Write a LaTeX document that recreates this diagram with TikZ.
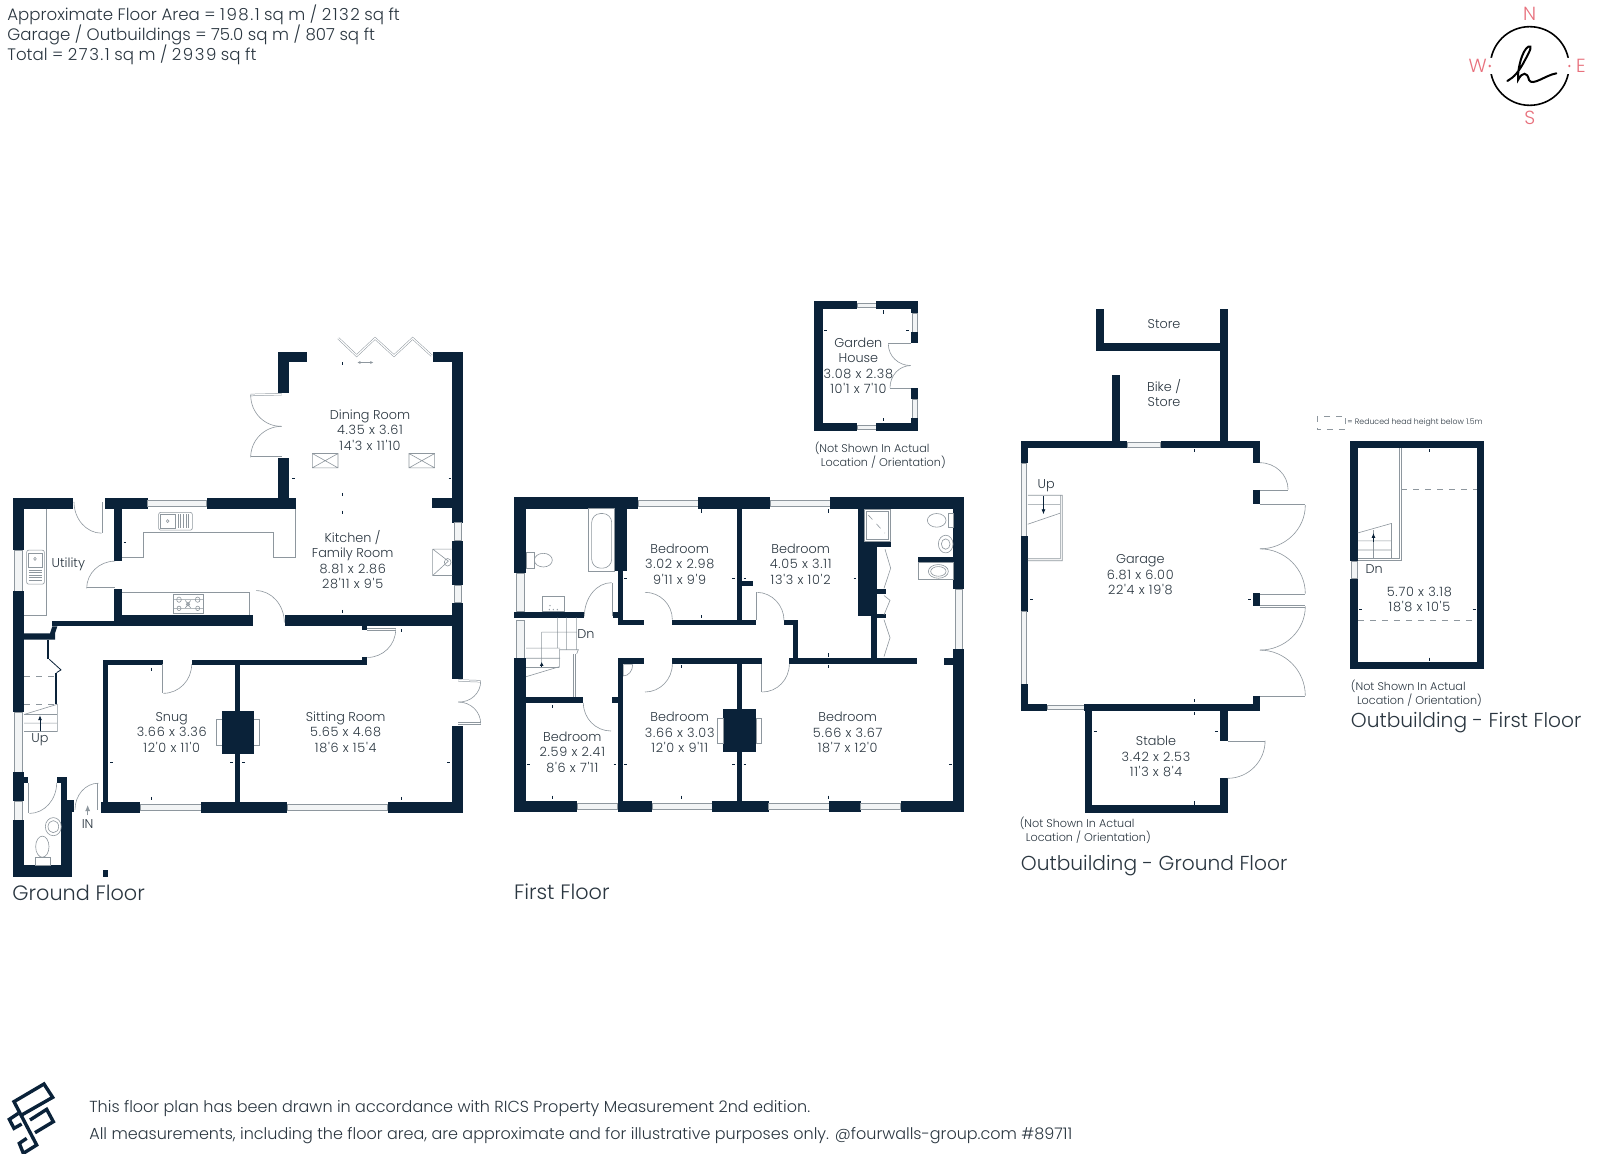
\documentclass[tikz,border=0pt]{standalone}
\usepackage{fontspec}
\setmainfont{Poppins}[UprightFont=* Light,Numbers=Monospaced]
\newfontface\dimf{Poppins Light}[LetterSpace=5.5,Numbers=Monospaced]
\newfontface\hdimf{Poppins Light}[LetterSpace=9,Numbers=Monospaced]
\newcommand\dm[1]{{\dimf #1}}
\newcommand\hd[1]{{\hdimf #1}}
\usetikzlibrary{calc,arrows.meta}
\definecolor{wallc}{HTML}{0A2239}
\definecolor{linec}{HTML}{8E979E}
\definecolor{winc}{HTML}{F2F4F5}
\definecolor{txt}{HTML}{2A3640}
\definecolor{redc}{HTML}{E8707C}
\tikzset{
 wall/.style={fill=wallc,draw=none},
 fine/.style={draw=linec,line width=0.3pt},
 leaf/.style={draw=linec,line width=0.25pt,double=white,double distance=0.6pt},
 win/.style={fill=winc,draw=linec,line width=0.3pt},
 tickm/.style={draw=wallc,line width=0.4pt},
 room/.style={font=\fontsize{6.4}{7.75}\selectfont,align=center,inner sep=0pt,text=txt},
 smalln/.style={font=\fontsize{5.6}{7.0}\selectfont,align=left,anchor=west,inner sep=0pt,text=txt},
 floort/.style={font=\fontsize{10.4}{12}\selectfont,anchor=west,inner sep=0pt,text=txt},
 floorb/.style={font=\fontsize{10.1}{12}\selectfont,anchor=west,inner sep=0pt,text=txt},
 headt/.style={font=\fontsize{8.3}{10}\selectfont,anchor=west,inner sep=0pt,text=txt},
 foott/.style={font=\fontsize{8.0}{10}\selectfont,anchor=west,inner sep=0pt,text=txt},
 compt/.style={font=\fontsize{9.5}{10}\selectfont,inner sep=0pt,text=redc},
 planA/.style={shift={(0,330)},x=0.16667pt,y=-0.18885pt},
 planB/.style={shift={(500,290)},x=0.16667pt,y=-0.201pt},
 planC/.style={shift={(1000.2,290)},x=0.1914pt,y=-0.1985pt},
}
\newcommand\Wl[4]{\fill[wall] (#1,#2) rectangle (#3,#4);}
\newcommand\Wn[4]{\path[win] (#1,#2) rectangle (#3,#4);}
\newcommand\Dr[6]{\draw[leaf] (#1,#2)--(#3,#4); \draw[fine] (#3,#4) .. controls ($(#3,#4)+0.5523*(#5,#6)-0.5523*(#1,#2)$) and ($(#5,#6)+0.5523*(#3,#4)-0.5523*(#1,#2)$) .. (#5,#6);}
\newcommand\Tv[2]{\draw[tickm] (#1,#2-4)--(#1,#2+4);}
\newcommand\Th[2]{\draw[tickm] (#1-4,#2)--(#1+4,#2);}
\begin{document}
\begin{tikzpicture}[x=0.5pt,y=-0.5pt]
\useasboundingbox[fill=white] (0,0) rectangle (1600,1154);
% ---------- header
\node[headt] (h1) at (7,15) {Approximate Floor Area = \hd{198.1} sq m / \hd{2132} sq ft};
\node[headt] (h2) at (7,35) {Garage / Outbuildings = 75.0 sq m / 807 sq ft};
\node[headt] (h3) at (7,55) {Total = \hd{273.1} sq m / \hd{2939} sq ft};
% ---------- footer
\node[foott] (f1) at (89,1108) {This floor plan has been drawn in accordance with RICS Property Measurement 2nd edition.};
\node[foott] (f2) at (89,1136) {All measurements, including the floor area, are approximate and for illustrative purposes only. @fourwalls-group.com \#89711};
% ---------- logo
\begin{scope}[shift={(0,1080)},x=0.16667pt,y=-0.16667pt]
\draw[wallc,line width=1.7pt,line join=miter] (65,105)--(158,52)--(132,12)--(42,65)--(110,195)--(70,220)--(58,190)--(80,175);
\draw[wallc,line width=1.7pt] (90,120)--(140,88)--(160,125)--(105,158);
\draw[wallc,line width=1.7pt] (55,100)--(28,118)--(42,145)--(65,132);
\end{scope}
% ---------- compass
\begin{scope}[shift={(1419,0)},x=0.16667pt,y=-0.16667pt]
\draw[black,line width=0.8pt] (332,198) circle[radius=118];
\path[fill=white] (200,174) rectangle (225,222) (440,174) rectangle (465,222);
\draw[black,line width=1pt,line cap=round] (265,243) .. controls (285,232) and (300,215) .. (318,180) .. controls (335,150) and (340,135) .. (328,140) .. controls (310,150) and (295,205) .. (297,240) .. controls (310,215) and (325,215) .. (330,240) .. controls (340,260) and (380,225) .. (412,220);
\fill[redc] (212,198) circle[radius=4] (451,198) circle[radius=4];
\node[compt] (cn) at (332,42) {N};
\node[compt] (cs) at (332,354) {S};
\node[compt] (cw) at (176,198) {W};
\node[compt] (ce) at (486,198) {E};
\end{scope}
% ========== GROUND FLOOR
\begin{scope}[planA]
\Wl{38}{445}{218}{473}\Wl{38}{445}{72}{582}\Wn{42}{582}{66}{692}\Wl{38}{692}{72}{1012}\Wn{42}{1012}{66}{1170}\Wl{38}{1170}{72}{1248}\Wn{42}{1248}{66}{1298}\Wl{38}{1298}{72}{1447}
\Wl{72}{1184}{85}{1199}
\Wl{38}{1417}{217}{1447}\Wl{170}{1184}{200}{1199}\Wl{183}{1199}{200}{1250}\Wl{183}{1244}{222}{1276}\Wl{183}{1276}{217}{1447}
\Wl{315}{445}{443}{473}\Wn{443}{452}{620}{467}\Wl{620}{445}{887}{473}
\Wl{342}{473}{366}{612}\Wl{342}{686}{366}{770}\Wl{342}{755}{760}{785}\Wl{157}{770}{342}{785}\fill[wall] (157,785)--(172,785)--(165,803)--(165,820)--(72,820)--(72,803)--(150,803)--cycle;
\Wl{142}{820}{148}{872}\Wl{165}{907}{172}{990}
\Wl{856}{755}{1388}{785}\Wl{1087}{785}{1102}{793}
\Wl{1356}{57}{1388}{510}\Wl{1298}{57}{1388}{85}\Wn{1362}{510}{1384}{558}\Wl{1356}{558}{1388}{675}\Wn{1362}{675}{1384}{722}\Wl{1356}{722}{1388}{925}\Wl{1356}{1048}{1388}{1280}
\Wl{1296}{445}{1356}{472}
\Wl{833}{57}{922}{85}\Wl{833}{57}{868}{167}\Wl{833}{340}{868}{445}
\Wl{308}{873}{488}{887}\Wl{575}{873}{1102}{887}\Wl{1087}{867}{1102}{887}\Wl{308}{873}{324}{1250}
\Wl{302}{1250}{420}{1280}\Wn{420}{1257}{604}{1273}\Wl{604}{1250}{862}{1280}\Wn{862}{1257}{1163}{1273}\Wl{1163}{1250}{1388}{1280}
\Wl{704}{887}{720}{1250}\Wl{665}{1008}{762}{1122}
\draw[fine] (665,1030)--(648,1030)--(648,1100)--(665,1100) (762,1030)--(778,1030)--(778,1100)--(762,1100);
% doors
\Dr{305}{455}{305}{538}{222}{455}
\Dr{345}{684}{260}{684}{345}{612}
\Dr{768}{775}{768}{690}{853}{775}
\Dr{1102}{793}{1187}{793}{1102}{867}
\Dr{490}{885}{490}{962}{575}{885}
\Dr{845}{170}{752}{172}{845}{255}
\Dr{845}{337}{752}{337}{845}{255}
\Dr{1375}{928}{1442}{930}{1375}{985}
\Dr{1375}{1042}{1442}{1042}{1375}{985}
\Dr{88}{1199}{88}{1280}{170}{1199}
\Dr{295}{1270}{295}{1200}{225}{1270}
\draw[fine,double=white,double distance=0.6pt,line width=0.25pt] (1015,22)--(1070,68)--(1125,22)--(1182,68)--(1238,22)--(1295,68);
\draw[tickm] (148,872)--(183,900)--(170,907);
% stairs
\draw[fine,dashed] (72,918)--(165,918) (72,991)--(165,991);
\draw[fine] (72,1018)--(172,991)--(172,1063)--(72,1063) (72,1018)--(172,1018) (72,1041)--(172,1041);
\draw[tickm,-{Latex[length=2.5pt,width=2pt]}] (120,1063)--(120,1020);
% utility fittings
\draw[fine] (140,473)--(140,755) (72,755)--(140,755);
\draw[fine,rounded corners=1pt] (80,583) rectangle (133,673);
\draw[fine] (85,590) rectangle (128,628);
\foreach \yy in {635,642,649,656,663} {\draw[fine] (86,\yy)--(127,\yy);}
\draw[fine] (105,606) circle[radius=4];
% kitchen
\draw[fine] (366,603)--(430,603)--(430,535)--(820,535)--(820,603)--(887,603)--(887,473);
\draw[fine,rounded corners=1pt] (476,483) rectangle (577,530);
\draw[fine] (482,488) rectangle (525,525);
\foreach \xx in {534,542,550,558,566} {\draw[fine] (\xx,488)--(\xx,525);}
\draw[fine] (503,506) circle[radius=4];
\draw[fine] (366,695)--(748,695)--(748,755);
\draw[fine] (519,701) rectangle (609,749);
\draw[fine] (537,714) circle[radius=7] (593,714) circle[radius=7] (537,737) circle[radius=6] (593,737) circle[radius=6] (564,726) circle[radius=5];
\draw[fine] (556,716)--(572,736) (572,716)--(556,736) (519,714)--(609,714) (519,737)--(609,737);
\draw[fine] (1298,580)--(1356,580) (1298,580)--(1298,650)--(1356,650) (1298,580)--(1345,612)--(1298,650);
\draw[fine] (1343,615) circle[radius=10];
% rooflights
\draw[fine] (937,327) rectangle (1014,365) (937,327)--(1014,365) (937,365)--(1014,327);
\draw[fine] (1227,327) rectangle (1304,365) (1227,327)--(1304,365) (1227,365)--(1304,327);
% wc
\draw[fine] (160,1315) circle[radius=24];
\draw[fine] (160,1315) circle[radius=16];
\draw[fine] (127,1368) ellipse[x radius=20,y radius=28];
\draw[fine] (105,1396) rectangle (150,1417);
% ticks
\foreach \a/\b in {1028/90,1028/435,1028/482,1028/745,1205/795,453/898,453/1240,1205/1240} {\Tv{\a}{\b}}
\foreach \a/\b in {880/393,1350/393,375/562,335/1145,1345/1145,695/1145,730/1145} {\Th{\a}{\b}}
\draw[fine,<->,>={Latex[length=1.5pt,width=1.5pt]}] (1072,86)--(1120,86);
\draw[fine,-{Latex[length=3pt,width=2.5pt]}] (263,1285)--(263,1258);
\fill[wall] (308,1431) rectangle (323,1447);
\node[room] (din) at (1110,265) {Dining Room\\\dm{4.35 x 3.61}\\\dm{14'3 x 11'10}};
\node[room] (kit) at (1058,608) {Kitchen /\\Family Room\\\dm{8.81 x 2.86}\\\dm{28'11 x 9'5}};
\node[room] (util) at (205,620) {Utility};
\node[room] (snug) at (515,1065) {Snug\\\dm{3.66 x 3.36}\\\dm{12'0 x 11'0}};
\node[room] (sit) at (1037,1065) {Sitting Room\\\dm{5.65 x 4.68}\\\dm{18'6 x 15'4}};
\node[room] (up1) at (120,1085) {Up};
\node[room] (in1) at (263,1308) {IN};
\node[floort] (gf) at (36,1490) {Ground Floor};
\end{scope}
% ========== FIRST FLOOR + GARDEN HOUSE
\begin{scope}[planB]
\Wl{43}{516}{415}{544}\Wn{415}{522}{595}{538}\Wl{595}{516}{810}{544}\Wn{810}{522}{990}{538}\Wl{990}{516}{1393}{544}
\Wl{43}{516}{78}{705}\Wn{50}{705}{72}{800}\Wl{43}{800}{253}{815}\Wn{50}{822}{72}{915}\Wl{43}{915}{78}{1298}
\Wl{43}{1270}{232}{1298}\Wn{232}{1277}{353}{1292}\Wl{353}{1270}{457}{1298}\Wn{457}{1277}{637}{1292}\Wl{637}{1270}{806}{1298}\Wn{806}{1277}{988}{1292}\Wl{988}{1270}{1082}{1298}\Wn{1082}{1277}{1202}{1292}\Wl{1202}{1270}{1393}{1298}
\Wl{1360}{516}{1393}{745}\Wn{1366}{745}{1388}{893}\Wl{1360}{893}{1393}{1298}\Wl{1332}{916}{1360}{932}
\Wl{343}{544}{380}{700}\Wl{354}{700}{370}{833}\Wl{338}{800}{354}{815}\Wl{354}{820}{432}{834}\Wl{517}{820}{768}{834}
\Wl{710}{544}{725}{820}\Wl{725}{724}{758}{737}
\Wl{852}{820}{893}{834}\Wl{878}{820}{893}{916}\Wl{868}{916}{1250}{930}
\Wl{355}{916}{432}{930}\Wl{517}{916}{785}{930}\Wl{354}{916}{370}{1270}\Wl{710}{930}{725}{1270}\Wl{669}{1043}{768}{1150}
\Wl{78}{1013}{250}{1027}\Wl{335}{1013}{355}{1027}
\Wl{1075}{544}{1092}{640}\Wl{1075}{628}{1172}{640}\Wl{1075}{640}{1130}{812}\Wl{1113}{812}{1130}{916}\Wl{1255}{665}{1360}{678}
\Wl{1130}{745}{1158}{755}\Wl{1130}{805}{1158}{815}
\Dr{335}{812}{335}{728}{253}{812}
\Dr{435}{820}{435}{752}{517}{820}
\Dr{772}{820}{772}{752}{852}{822}
\Dr{435}{930}{435}{1000}{517}{930}
\Dr{787}{930}{787}{1000}{868}{930}
\Dr{333}{1027}{333}{1097}{250}{1027}
\draw[fine] (1155,645)--(1172,692)--(1152,742) (1152,760)--(1170,772)--(1152,808) (1152,820)--(1170,865)--(1152,912);
\draw[fine] (653,1065) rectangle (669,1128) (768,1065) rectangle (785,1128);
% bathroom
\draw[fine] (265,544) rectangle (343,700);
\draw[fine,rounded corners=4.5pt] (275,556) rectangle (335,692);
\draw[fine] (78,652) rectangle (102,692);
\draw[fine] (130,672) ellipse[x radius=27,y radius=17];
\draw[fine] (127,763) rectangle (193,800);
\fill[linec] (150,785) circle[radius=2] (160,795) circle[radius=2] (172,795) circle[radius=2] (148,795) circle[radius=2];
% stairs
\draw[fine] (125,851)--(230,851) (78,891)--(180,891) (78,916)--(180,916) (78,939)--(178,939) (173,815)--(173,891) (200,815)--(200,895) (230,815)--(230,895) (125,851)--(125,938) (78,962)--(178,937)--(178,895)--(235,895)--(230,905);
\draw[fine] (220,905)--(220,1013) (225,905)--(225,1013);
\draw[tickm,-{Latex[length=2pt,width=2pt]}] (125,938)--(125,925);
\draw[fine] (370,960) arc[start angle=90,end angle=0,radius=28] -- (370,932) -- cycle;
% en-suite
\draw[fine] (1092,545) rectangle (1170,625) (1098,551) rectangle (1164,619);
\draw[fine,dashed] (1105,560)--(1155,605);
\draw[fine] (1310,573) ellipse[x radius=28,y radius=17];
\draw[fine] (1345,555) rectangle (1360,590);
\draw[fine] (1337,632) circle[radius=22] (1337,632) circle[radius=13];
\draw[fine] (1255,678) rectangle (1360,720);
\draw[fine] (1315,700) ellipse[x radius=30,y radius=17] (1315,700) ellipse[x radius=23,y radius=12];
% ticks
\foreach \a/\b in {605/550,985/550,605/813,985/908,985/937,545/937,158/1036,158/1262,545/1262,985/1262} {\Tv{\a}{\b}}
\foreach \a/\b in {377/717,700/717,735/717,1065/717,85/1180,345/1180,377/1180,700/1180,735/1180,1352/1180} {\Th{\a}{\b}}
% garden house
\Wl{943}{27}{1072}{47}\Wn{1072}{32}{1128}{42}\Wl{1128}{27}{1255}{47}\Wl{943}{27}{968}{351}
\Wl{943}{332}{1072}{351}\Wn{1072}{337}{1128}{346}\Wl{1128}{332}{1255}{351}
\Wl{1232}{27}{1255}{57}\Wn{1237}{57}{1252}{105}\Wl{1232}{105}{1255}{133}\Wl{1232}{243}{1255}{272}\Wn{1237}{272}{1252}{318}\Wl{1232}{318}{1255}{351}
\Dr{1232}{135}{1165}{135}{1232}{188}
\Dr{1232}{243}{1170}{243}{1232}{188}
\foreach \a/\b in {1150/55,1150/323} {\Tv{\a}{\b}}
\foreach \a/\b in {977/101,1222/101} {\Th{\a}{\b}}
\node[room] (gh) at (1075,189) {Garden\\House\\\dm{3.08 x 2.38}\\\dm{10'1 x 7'10}};
\node[smalln] (gn) at (943,411) {(Not Shown In Actual\\\ \ Location / Orientation)};
\node[room] (b1) at (539,682) {Bedroom\\\dm{3.02 x 2.98}\\\dm{9'11 x 9'9}};
\node[room] (b2) at (902,682) {Bedroom\\\dm{4.05 x 3.11}\\\dm{13'3 x 10'2}};
\node[room] (b3) at (539,1101) {Bedroom\\\dm{3.66 x 3.03}\\\dm{12'0 x 9'11}};
\node[room] (b4) at (1043,1101) {Bedroom\\\dm{5.66 x 3.67}\\\dm{18'7 x 12'0}};
\node[room] (b5) at (217,1150) {Bedroom\\\dm{2.59 x 2.41}\\\dm{8'6 x 7'11}};
\node[room] (dn1) at (258,855) {Dn};
\node[floort] (ff) at (41,1498) {First Floor};
\end{scope}
% ========== OUTBUILDINGS
\begin{scope}[planC]
\Wl{251}{133}{594}{153}\Wl{251}{48}{270}{153}\Wl{574}{48}{594}{380}\Wl{293}{215}{313}{380}
\Wl{53}{380}{332}{398}\Wn{332}{383}{419}{395}\Wl{419}{380}{678}{398}
\Wl{53}{380}{72}{437}\Wn{56}{437}{69}{620}\Wl{53}{620}{72}{810}\Wn{56}{810}{69}{993}\Wl{53}{993}{72}{1060}
\Wl{53}{1042}{123}{1060}\Wn{123}{1045}{219}{1057}\Wl{219}{1042}{678}{1060}
\Wl{660}{380}{678}{435}\Wl{660}{503}{678}{540}\Wl{660}{763}{678}{797}\Wl{660}{1022}{678}{1060}
\Wl{221}{1060}{241}{1318}\Wl{574}{1060}{594}{1135}\Wl{574}{1230}{594}{1318}\Wl{221}{1298}{594}{1318}
\Dr{678}{503}{752}{503}{678}{435}
\Dr{678}{542}{797}{542}{678}{652}
\Dr{678}{765}{797}{765}{678}{652}
\Dr{678}{797}{797}{797}{678}{907}
\Dr{678}{1022}{797}{1022}{678}{907}
\Dr{594}{1135}{692}{1135}{594}{1230}
\draw[fine] (72,517)--(162,517)--(162,682)--(72,682) (157,517)--(157,677)--(72,677) (72,540)--(157,540) (72,590)--(157,562);
\draw[tickm,-{Latex[length=2.5pt,width=2pt]}] (113,520)--(113,565);
\foreach \a/\b in {507/405,507/1035,507/1067,507/1292} {\Tv{\a}{\b}}
\foreach \a/\b in {82/780,652/780,248/1113,565/1113} {\Th{\a}{\b}}
% first floor outbuilding
\Wl{915}{380}{1265}{398}\Wl{915}{380}{934}{683}\Wn{917}{683}{932}{727}\Wl{915}{727}{934}{955}\Wl{915}{937}{1265}{955}\Wl{1246}{380}{1265}{955}
\draw[fine] (1042,398)--(1042,676)--(934,676) (1048,398)--(1048,682)--(934,682);
\draw[fine,dashed] (1048,502)--(1246,502) (934,833)--(1246,833);
\draw[fine] (934,612)--(1022,588)--(1022,676) (934,632)--(1022,632) (934,655)--(1022,655) (975,605)--(975,676);
\draw[tickm,-{Latex[length=2.5pt,width=2pt]}] (975,635)--(975,612);
\foreach \a/\b in {1122/405,1122/930} {\Tv{\a}{\b}}
\foreach \a/\b in {942/804,1238/804} {\Th{\a}{\b}}
\draw[fine,dashed] (827,317) rectangle (902,352);
\node[font=\fontsize{3.9}{5}\selectfont,anchor=west,inner sep=0pt,text=txt] (lg) at (906,333) {= Reduced head height below 1.5m};
\node[room] (st) at (428,85) {Store};
\node[room] (bk) at (428,260) {Bike /\\Store};
\node[room] (gar) at (366,717) {Garage\\\dm{6.81 x 6.00}\\\dm{22'4 x 19'8}};
\node[room] (stb) at (407,1176) {Stable\\\dm{3.42 x 2.53}\\\dm{11'3 x 8'4}};
\node[room] (up2) at (120,492) {Up};
\node[room] (dn2) at (977,702) {Dn};
\node[room] (ob1) at (1095,780) {\dm{5.70 x 3.18}\\\dm{18'8 x 10'5}};
\node[smalln] (gn2) at (50,1360) {(Not Shown In Actual\\\ \ Location / Orientation)};
\node[smalln] (gn3) at (915,1016) {(Not Shown In Actual\\\ \ Location / Orientation)};
\node[floorb] (og) at (53,1449) {Outbuilding - Ground Floor};
\node[floorb] (of) at (915,1089) {Outbuilding - First Floor};
\end{scope}
\end{tikzpicture}
\end{document}
